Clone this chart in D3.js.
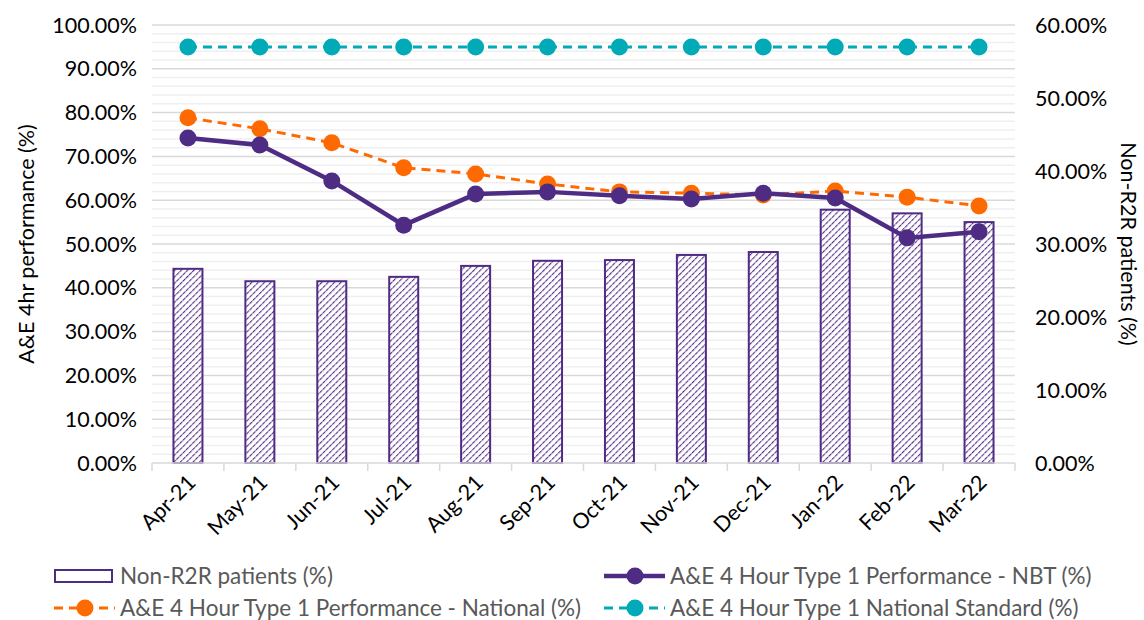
<!DOCTYPE html>
<html>
<head>
<meta charset="utf-8">
<script src="https://cdn.jsdelivr.net/npm/d3@7"></script>
<style>
  body { margin: 0; background: #fff; }
  text { font-family: Lato, "Open Sans", sans-serif; }
</style>
</head>
<body>
<svg id="chart" width="1144" height="620"></svg>
<script>
// Chart data
const months = ["Apr-21", "May-21", "Jun-21", "Jul-21", "Aug-21", "Sep-21",
  "Oct-21", "Nov-21", "Dec-21", "Jan-22", "Feb-22", "Mar-22"];
const nonR2R = [26.6, 24.9, 24.9, 25.5, 27.0, 27.7, 27.8, 28.5, 28.9, 34.7, 34.2, 33.0];
const nbt = [74.2, 72.6, 64.4, 54.3, 61.4, 61.9, 61.0, 60.3, 61.6, 60.5, 51.4, 52.8];
const national = [78.8, 76.3, 73.1, 67.4, 66.0, 63.7, 61.9, 61.6, 61.2, 62.1, 60.7, 58.7];
const standard = [95, 95, 95, 95, 95, 95, 95, 95, 95, 95, 95, 95];
const leftTicks = [0, 10, 20, 30, 40, 50, 60, 70, 80, 90, 100];
const rightTicks = [0, 10, 20, 30, 40, 50, 60];

const PURPLE = "#4f2c84", ORANGE = "#ff6a00", TEAL = "#00aab6";
const FS = 21.5;

const margin = { top: 25, right: 129, bottom: 157, left: 152 },
  width = 1144 - margin.left - margin.right,
  height = 620 - margin.top - margin.bottom;

const svg = d3.select("#chart");

// hatch pattern for bars
const defs = svg.append("defs");
const pat = defs.append("pattern")
  .attr("id", "hatch")
  .attr("patternUnits", "userSpaceOnUse")
  .attr("width", 4.5).attr("height", 4.5)
  .attr("patternTransform", "rotate(45)");
pat.append("rect").attr("width", 4.5).attr("height", 4.5).attr("fill", "#fff");
pat.append("line").attr("x1", 0).attr("y1", 0).attr("x2", 0).attr("y2", 4.5)
  .attr("stroke", PURPLE).attr("stroke-width", 2.2).attr("stroke-dasharray", "2.2,0.8");

const g = svg.append("g")
  .attr("transform", `translate(${margin.left},${margin.top})`);

const x = d3.scaleBand().domain(months).range([0, width]);
const yL = d3.scaleLinear([0, 100], [height, 0]);
const yR = d3.scaleLinear([0, 60], [height, 0]);

// gridlines: minor every 2%, major every 10%
const minor = d3.range(0, 101, 2).filter(v => v % 10 !== 0);
g.append("g").selectAll("line").data(minor).join("line")
  .attr("x1", 0).attr("x2", width)
  .attr("y1", d => yL(d)).attr("y2", d => yL(d))
  .attr("stroke", "#efefef").attr("stroke-width", 1.5);
g.append("g").selectAll("line").data(leftTicks.slice(1)).join("line")
  .attr("x1", 0).attr("x2", width)
  .attr("y1", d => yL(d)).attr("y2", d => yL(d))
  .attr("stroke", "#d9d9d9").attr("stroke-width", 1.5);

// bars (right axis)
const bw = 29;
g.append("g").selectAll("rect").data(nonR2R).join("rect")
  .attr("x", (d, i) => x(months[i]) + x.bandwidth() / 2 - bw / 2)
  .attr("y", d => yR(d))
  .attr("width", bw)
  .attr("height", d => height - yR(d))
  .attr("fill", "url(#hatch)")
  .attr("stroke", PURPLE).attr("stroke-width", 2);

// x axis
const xAxis = g.append("g")
  .attr("transform", `translate(0,${height})`);
xAxis.append("line").attr("x1", 0).attr("x2", width)
  .attr("stroke", "#d9d9d9").attr("stroke-width", 1.5);
xAxis.selectAll("line.tk").data(d3.range(months.length + 1)).join("line")
  .attr("class", "tk")
  .attr("x1", i => i * x.step()).attr("x2", i => i * x.step())
  .attr("y1", 0).attr("y2", 8)
  .attr("stroke", "#d9d9d9").attr("stroke-width", 1.5);
xAxis.selectAll("text").data(months).join("text")
  .attr("transform", d => `translate(${x(d) + x.bandwidth() / 2 + 9},${21}) rotate(-45)`)
  .attr("text-anchor", "end")
  .attr("font-size", FS)
  .attr("fill", "#000")
  .text(d => d);

// left axis labels
const fmt = d => d.toFixed(2) + "%";
g.append("g").selectAll("text").data(leftTicks).join("text")
  .attr("x", -15).attr("y", d => yL(d)).attr("dy", "0.35em")
  .attr("text-anchor", "end").attr("font-size", FS).attr("fill", "#000")
  .text(fmt);

// right axis labels
g.append("g").selectAll("text").data(rightTicks).join("text")
  .attr("x", width + 20).attr("y", d => yR(d)).attr("dy", "0.35em")
  .attr("text-anchor", "start").attr("font-size", FS).attr("fill", "#000")
  .text(fmt);

// axis titles
svg.append("text")
  .attr("transform", `translate(34,${margin.top + height / 2}) rotate(-90)`)
  .attr("text-anchor", "middle").attr("font-size", FS).attr("fill", "#000")
  .text("A&E 4hr performance (%)");
svg.append("text")
  .attr("transform", `translate(1121,${margin.top + height / 2}) rotate(90)`)
  .attr("text-anchor", "middle").attr("font-size", FS).attr("fill", "#000")
  .text("Non-R2R patients (%)");

// lines
const cx = i => x(months[i]) + x.bandwidth() / 2;
function drawSeries(data, color, width_, dash) {
  const line = d3.line().x((d, i) => cx(i)).y(d => yL(d));
  g.append("path").datum(data)
    .attr("fill", "none").attr("stroke", color)
    .attr("stroke-width", width_)
    .attr("stroke-dasharray", dash)
    .attr("d", line);
  g.append("g").selectAll("circle").data(data).join("circle")
    .attr("cx", (d, i) => cx(i)).attr("cy", d => yL(d))
    .attr("r", 8.5).attr("fill", color);
}
drawSeries(standard, TEAL, 3, "9,6");
drawSeries(national, ORANGE, 3, "9,6");
drawSeries(nbt, PURPLE, 4.5, null);

// legend
const leg = svg.append("g").attr("font-size", 22.5).attr("fill", "#595959");
leg.append("rect").attr("x", 55).attr("y", 570).attr("width", 57).attr("height", 12)
  .attr("fill", "#fff").attr("stroke", PURPLE).attr("stroke-width", 2);
leg.append("text").attr("x", 120).attr("y", 576).attr("dy", "0.35em").text("Non-R2R patients (%)");

function legLine(x0, y0, color, sw, dash, label) {
  leg.append("line").attr("x1", x0).attr("x2", x0 + 61).attr("y1", y0).attr("y2", y0)
    .attr("stroke", color).attr("stroke-width", sw).attr("stroke-dasharray", dash);
  leg.append("circle").attr("cx", x0 + 31).attr("cy", y0).attr("r", 8.5).attr("fill", color);
  leg.append("text").attr("x", x0 + 66).attr("y", y0).attr("dy", "0.35em").text(label);
}
legLine(54, 608, ORANGE, 3, "9,6", "A&E 4 Hour Type 1 Performance - National (%)");
legLine(604, 576, PURPLE, 4.5, null, "A&E 4 Hour Type 1 Performance - NBT (%)");
legLine(604, 608, TEAL, 3, "9,6", "A&E 4 Hour Type 1 National Standard (%)");
</script>
</body>
</html>
